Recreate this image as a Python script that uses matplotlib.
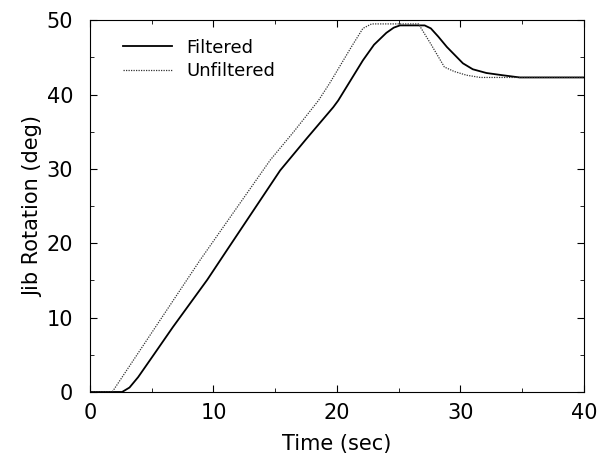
import matplotlib.pyplot as plt
from matplotlib.ticker import MultipleLocator

plt.rcParams['font.family'] = ['DejaVu Sans']

# Filtered response
t_filt = [0, 2.6, 3.2, 3.9, 5.2, 6.7, 9.5, 11.1, 15.4, 17.5, 19.7, 20.1, 22.1, 23.0,
          24.0, 24.6, 25.1, 27.1, 27.6, 28.2, 28.9, 30.2, 31.0, 32.1, 33.4, 34.8, 40]
y_filt = [0, 0, 0.6, 2.0, 5.1, 8.7, 15.1, 19.1, 29.8, 34.0, 38.3, 39.2, 44.6, 46.7,
          48.3, 49.0, 49.3, 49.3, 48.9, 47.8, 46.4, 44.2, 43.4, 42.9, 42.6, 42.3, 42.3]

# Unfiltered response
t_unf = [0, 1.8, 8.9, 14.6, 16.5, 18.5, 19.4, 21.2, 22.1, 22.8, 26.6, 27.6, 28.7,
         29.5, 30.5, 31.6, 40]
y_unf = [0, 0, 17.7, 31.2, 35.0, 39.2, 41.5, 46.5, 48.9, 49.5, 49.5, 46.8, 43.7,
         43.1, 42.6, 42.3, 42.3]

fig = plt.figure(figsize=(5.98, 4.59), dpi=100)
ax = fig.add_axes([0.1505, 0.146, 0.826, 0.810])

ax.plot(t_filt, y_filt, color='black', lw=1.3, label='Filtered')
ax.plot(t_unf, y_unf, color='#333333', lw=0.9, linestyle=(0, (1, 1)), label='Unfiltered')

ax.set_xlim(0, 40)
ax.set_ylim(0, 50)
ax.xaxis.set_major_locator(MultipleLocator(10))
ax.xaxis.set_minor_locator(MultipleLocator(5))
ax.yaxis.set_major_locator(MultipleLocator(10))
ax.yaxis.set_minor_locator(MultipleLocator(5))
ax.tick_params(which='both', direction='in', top=True, right=True, labelsize=15)
ax.tick_params(which='major', length=5)
ax.tick_params(which='minor', length=3)
ax.tick_params(axis='x', pad=8)
ax.tick_params(axis='y', pad=12)

ax.set_xlabel('Time (sec)', fontsize=15, labelpad=8)
ax.set_ylabel('Jib Rotation (deg)', fontsize=15, labelpad=3)

ax.legend(loc='upper left', frameon=False, fontsize=13, handlelength=2.7,
          handletextpad=0.8, labelspacing=0.3, borderaxespad=0,
          bbox_to_anchor=(0.053, 0.97))

fig.savefig('out.png', dpi=100)
